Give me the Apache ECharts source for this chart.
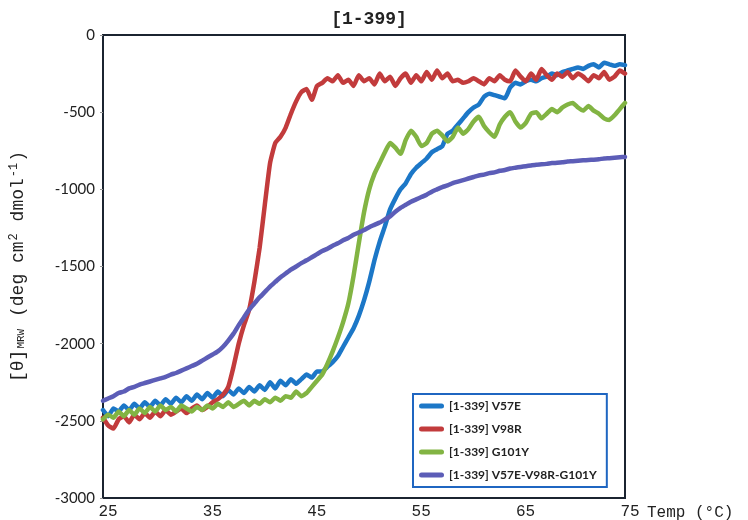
<!DOCTYPE html>
<html>
<head>
<meta charset="utf-8">
<script src="https://cdn.jsdelivr.net/npm/echarts@6/dist/echarts.min.js"></script>
<style>
  html, body { margin: 0; padding: 0; background: #fff; }
  #chart { width: 748px; height: 520px; }
</style>
</head>
<body>
<div id="chart"></div>
<script>
// temperature points (°C)
var temps = [25,25.5,26,26.5,27,27.5,28,28.5,29,29.5,30,30.5,31,31.5,32,32.5,33,33.5,34,34.5,
    35,35.5,36,36.5,37,37.5,38,38.5,39,39.5,40,40.5,41,41.5,42,42.5,43,43.5,44,44.5,
    45,45.5,46,46.5,47,47.5,48,48.5,49,49.5,50,50.5,51,51.5,52,52.5,53,53.5,54,54.5,
    55,55.5,56,56.5,57,57.5,58,58.5,59,59.5,60,60.5,61,61.5,62,62.5,63,63.5,64,64.5,
    65,65.5,66,66.5,67,67.5,68,68.5,69,69.5,70,70.5,71,71.5,72,72.5,73,73.5,74,74.5,75];

var v57e = [-2430,-2470,-2420,-2440,-2400,-2430,-2390,-2420,-2380,-2410,-2370,-2400,-2360,-2390,-2350,-2380,-2340,-2370,-2330,-2360,
    -2320,-2350,-2310,-2340,-2300,-2330,-2290,-2320,-2280,-2310,-2270,-2300,-2250,-2290,-2240,-2270,-2230,-2260,-2230,-2200,
    -2220,-2180,-2180,-2150,-2120,-2080,-2020,-1960,-1900,-1820,-1720,-1600,-1460,-1340,-1240,-1130,-1060,-1000,-960,-900,
    -860,-830,-800,-760,-740,-720,-640,-620,-580,-540,-500,-470,-450,-400,-380,-390,-400,-410,-340,-310,
    -320,-300,-290,-300,-280,-270,-250,-260,-240,-230,-220,-210,-220,-200,-190,-210,-180,-190,-200,-190,-195];

var v98r = [-2480,-2530,-2550,-2490,-2470,-2510,-2460,-2490,-2450,-2480,-2440,-2470,-2430,-2460,-2440,-2420,-2450,-2420,-2400,-2430,
    -2410,-2380,-2360,-2330,-2280,-2150,-2000,-1880,-1780,-1600,-1380,-1100,-830,-700,-660,-600,-510,-430,-370,-350,
    -420,-330,-310,-280,-300,-260,-310,-290,-330,-260,-300,-280,-320,-250,-300,-270,-330,-280,-250,-310,
    -260,-300,-240,-290,-230,-280,-250,-300,-290,-310,-300,-280,-300,-320,-280,-300,-260,-290,-300,-230,
    -270,-300,-250,-290,-220,-260,-290,-250,-270,-240,-280,-250,-270,-300,-260,-280,-240,-290,-270,-230,-250];

var g101y = [-2490,-2460,-2480,-2440,-2470,-2430,-2460,-2420,-2450,-2410,-2440,-2400,-2430,-2410,-2440,-2400,-2420,-2440,-2410,-2430,
    -2400,-2420,-2390,-2410,-2380,-2410,-2390,-2370,-2400,-2370,-2390,-2360,-2380,-2350,-2370,-2340,-2350,-2310,-2340,-2320,
    -2280,-2240,-2200,-2130,-2050,-1960,-1860,-1740,-1560,-1350,-1150,-1000,-900,-830,-760,-700,-730,-770,-680,-620,
    -660,-720,-700,-640,-620,-650,-690,-660,-600,-640,-610,-560,-530,-590,-630,-660,-580,-530,-500,-560,
    -600,-570,-510,-500,-540,-510,-480,-500,-470,-450,-440,-470,-490,-460,-490,-510,-540,-550,-520,-480,-440];

var triple = [-2370,-2355,-2340,-2320,-2310,-2290,-2280,-2265,-2255,-2245,-2235,-2225,-2215,-2200,-2190,-2175,-2160,-2145,-2130,-2110,
    -2090,-2070,-2050,-2020,-1980,-1935,-1880,-1830,-1780,-1740,-1700,-1665,-1630,-1600,-1570,-1545,-1520,-1500,-1478,-1460,
    -1440,-1420,-1400,-1385,-1365,-1350,-1330,-1315,-1295,-1280,-1264,-1245,-1230,-1215,-1195,-1175,-1145,-1120,-1100,-1080,
    -1065,-1050,-1035,-1015,-1000,-985,-975,-960,-950,-940,-930,-920,-910,-905,-895,-890,-880,-875,-865,-860,
    -855,-850,-845,-840,-838,-835,-830,-828,-825,-820,-818,-815,-812,-810,-808,-805,-800,-798,-795,-792,-790];

var seriesNames = ['[1-339] V57E', '[1-339] V98R', '[1-339] G101Y', '[1-339] V57E-V98R-G101Y'];
var seriesValues = [v57e, v98r, g101y, triple];
var colors = ['#1c77c7', '#c23b3c', '#82b443', '#5c5db7'];

function pairs(vals) {
    return temps.map(function (t, i) { return [t, vals[i]]; });
}

var mono = '"Liberation Mono", "DejaVu Sans Mono", monospace';

var option = {
    backgroundColor: '#ffffff',
    animation: false,
    title: {
        text: '[1-399]',
        left: 364,
        textAlign: 'center',
        top: 5,
        textStyle: { fontFamily: mono, fontSize: 18, fontWeight: 'bold', color: '#222' }
    },
    legend: {
        orient: 'vertical',
        left: 413,
        top: 394,
        padding: [6, 10, 6, 6],
        itemGap: 11,
        itemWidth: 25,
        itemHeight: 7,
        icon: 'path://M3,0 H27 A3,3 0 0 1 27,6 H3 A3,3 0 0 1 3,0 Z',
        borderColor: '#1f66c1',
        borderWidth: 2,
        backgroundColor: '#fff',
        textStyle: { fontFamily: 'Lato, "Open Sans", sans-serif', fontSize: 12, fontWeight: 'bold', color: '#222' },
        data: seriesNames
    },
    grid: {
        left: 103,
        right: 123,
        top: 35,
        bottom: 22,
        outerBoundsMode: 'none',
        show: true,
        borderColor: '#1b2430',
        borderWidth: 2,
        backgroundColor: '#fff'
    },
    xAxis: {
        type: 'value',
        min: 25,
        max: 75,
        interval: 5,
        name: 'Temp (°C)',
        nameLocation: 'end',
        nameGap: 22,
        nameTextStyle: { fontFamily: mono, fontSize: 16, color: '#222', verticalAlign: 'top', padding: [7, 0, 0, 0] },
        axisLine: { onZero: false, lineStyle: { color: '#1b2430', width: 2 } },
        axisTick: { show: false },
        splitLine: { show: false },
        axisLabel: {
            fontFamily: mono,
            fontSize: 16,
            color: '#222',
            margin: 6,
            padding: [0, 0, 0, 10],
            formatter: function (v) { return (v - 25) % 10 === 0 ? String(v) : ''; }
        }
    },
    yAxis: {
        type: 'value',
        min: -3000,
        max: 0,
        interval: 500,
        name: '{a|[θ]}{s|MRW}{a| (deg cm}{p|2}{a| dmol}{p|-1}{a|)}',
        nameLocation: 'middle',
        nameRotate: 90,
        nameGap: 74,
        nameTextStyle: {
            rich: {
                a: { fontFamily: mono, fontSize: 18, color: '#222' },
                s: { fontFamily: mono, fontSize: 11, color: '#222', padding: [5, 1, 0, 1] },
                p: { fontFamily: mono, fontSize: 12, color: '#222', verticalAlign: 'top', padding: [0, 1, 9, 1] }
            }
        },
        axisLine: { show: true, onZero: false, lineStyle: { color: '#1b2430', width: 2 } },
        axisTick: { show: true, length: 3, lineStyle: { color: '#999' } },
        splitLine: { show: false },
        axisLabel: {
            fontFamily: 'Lato, "Open Sans", sans-serif',
            fontSize: 15,
            color: '#222',
            margin: 8,
            formatter: function (v) { return String(v); }
        }
    },
    series: seriesNames.map(function (name, i) {
        return {
            name: name,
            type: 'line',
            data: pairs(seriesValues[i]),
            showSymbol: false,
            smooth: 0.15,
            color: colors[i],
            lineStyle: { width: 4.5, color: colors[i], cap: 'round', join: 'round' }
        };
    })
};

var chart = echarts.init(document.getElementById('chart'));
chart.setOption(option);
</script>
</body>
</html>
